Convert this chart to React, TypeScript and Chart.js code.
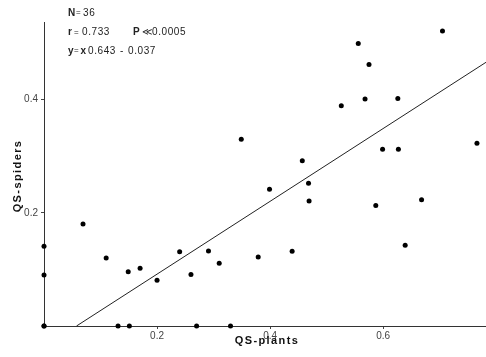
import { useEffect, useRef } from "react";
import { Chart, registerables } from "chart.js";

Chart.register(...registerables);

// QS-plants (x) and QS-spiders (y) for each site
const plantsQS = [
  0, 0, 0, 0, 0.069, 0.11, 0.149, 0.17, 0.2, 0.24, 0.26, 0.291, 0.31, 0.379,
  0.131, 0.151, 0.27, 0.33, 0.705, 0.556, 0.575, 0.526, 0.568, 0.626, 0.599,
  0.627, 0.766, 0.457, 0.468, 0.469, 0.587, 0.668, 0.439, 0.639, 0.349, 0.399,
];
const spidersQS = [
  0.141, 0.09, 0, 0, 0.18, 0.12, 0.096, 0.102, 0.081, 0.131, 0.091, 0.1325,
  0.111, 0.122, 0, 0, 0, 0, 0.521, 0.499, 0.462, 0.389, 0.401, 0.402, 0.312,
  0.312, 0.323, 0.292, 0.252, 0.221, 0.213, 0.223, 0.132, 0.1426, 0.33, 0.2415,
];

const xTicks = [0.2, 0.4, 0.6];
const yTicks = [0.2, 0.4];
const xMin = 0;
const xMax = 0.782;
const yMin = 0;
const yMax = 0.537;

const slope = 0.643;
const intercept = -0.037;

const xTitle = "QS-plants";
const yTitle = "QS-spiders";

// stats block: segments [text, style, x offset from first char]
// style: "b" bold, "n" normal, "s" small
const statLines: [string, string, number][][] = [
  [["N", "b", 0], ["=", "s", 8], ["36", "n", 15]],
  [
    ["r", "b", 0],
    ["=", "s", 6],
    ["0.733", "n", 14],
    ["P", "b", 65],
    ["\u226A", "n", 74],
    ["0.0005", "n", 84],
  ],
  [
    ["y", "b", 0],
    ["=", "s", 6],
    ["x", "b", 12.5],
    ["0.643", "n", 20],
    ["-", "n", 52],
    ["0.037", "n", 60],
  ],
];
const statRowsY = [13, 32.5, 51];

const FONT = "'Liberation Sans', Arial, Helvetica, sans-serif";

const textPlugin = {
  id: "texts",
  afterDraw(chart: any) {
    const ctx = chart.ctx as CanvasRenderingContext2D;
    const area = chart.chartArea;
    ctx.save();
    ctx.fillStyle = "#111";
    // x title
    ctx.font = `bold 11px ${FONT}`;
    (ctx as any).letterSpacing = "1.4px";
    ctx.textAlign = "center";
    ctx.textBaseline = "middle";
    ctx.fillText(xTitle, 267, 341);
    // y title
    ctx.save();
    ctx.translate(18, 176);
    ctx.rotate(-Math.PI / 2);
    ctx.fillText(yTitle, 0, 0);
    ctx.restore();
    // stats
    (ctx as any).letterSpacing = "0.6px";
    ctx.textAlign = "left";
    ctx.textBaseline = "middle";
    ctx.fillStyle = "#222";
    const x0 = area.left + 24;
    statLines.forEach((line, i) => {
      line.forEach(([t, st, dx]) => {
        ctx.font =
          st === "b" ? `bold 10px ${FONT}` : st === "s" ? `8px ${FONT}` : `10px ${FONT}`;
        ctx.fillText(t, x0 + dx, statRowsY[i]);
      });
    });
    (ctx as any).letterSpacing = "0px";
    ctx.restore();
  },
};

export default function App() {
  const ref = useRef<HTMLCanvasElement>(null);
  useEffect(() => {
    if (!ref.current) return;
    const points = plantsQS.map((x, i) => ({ x, y: spidersQS[i] }));
    const xs = -intercept / slope;
    const linePts = [
      { x: xs, y: slope * xs + intercept },
      { x: xMax, y: slope * xMax + intercept },
    ];
    const chart = new Chart(ref.current, {
      type: "scatter",
      data: {
        datasets: [
          {
            type: "line",
            data: linePts,
            borderColor: "#222",
            borderWidth: 1,
            pointRadius: 0,
            fill: false,
            clip: false as any,
          },
          {
            type: "scatter",
            data: points,
            backgroundColor: "#000",
            borderColor: "#000",
            pointRadius: 2.5,
            borderWidth: 0,
            clip: false as any,
          },
        ],
      },
      options: {
        animation: false,
        responsive: true,
        maintainAspectRatio: false,
        layout: {
          autoPadding: false,
          padding: { left: 0, top: 22, right: 0, bottom: 0 },
        },
        plugins: {
          legend: { display: false },
          tooltip: { enabled: false },
        },
        scales: {
          x: {
            type: "linear",
            min: xMin,
            max: xMax,
            afterBuildTicks: (s: any) => {
              s.ticks = xTicks.map((v) => ({ value: v }));
            },
            afterFit: (s: any) => {
              s.height = 31;
            },
            grid: {
              drawOnChartArea: false,
              drawTicks: true,
              tickLength: 3,
              color: "#444",
            },
            border: { display: true, color: "#333", width: 1 },
            ticks: {
              padding: 1,
              color: "#444",
              font: { family: FONT, size: 10 },
              callback: (v: any) => Number(v).toFixed(1),
            },
          },
          y: {
            type: "linear",
            min: yMin,
            max: yMax,
            afterBuildTicks: (s: any) => {
              s.ticks = yTicks.map((v) => ({ value: v }));
            },
            afterFit: (s: any) => {
              s.width = 44;
            },
            grid: {
              drawOnChartArea: false,
              drawTicks: true,
              tickLength: 3,
              color: "#444",
            },
            border: { display: true, color: "#333", width: 1 },
            ticks: {
              padding: 3,
              color: "#444",
              font: { family: FONT, size: 10 },
              callback: (v: any) => Number(v).toFixed(1),
            },
          },
        },
      },
      plugins: [textPlugin],
    });
    return () => chart.destroy();
  }, []);
  return (
    <div
      style={{
        position: "fixed",
        left: 0,
        top: 0,
        width: 486,
        height: 357,
        background: "#fff",
      }}
    >
      <canvas ref={ref} />
    </div>
  );
}
